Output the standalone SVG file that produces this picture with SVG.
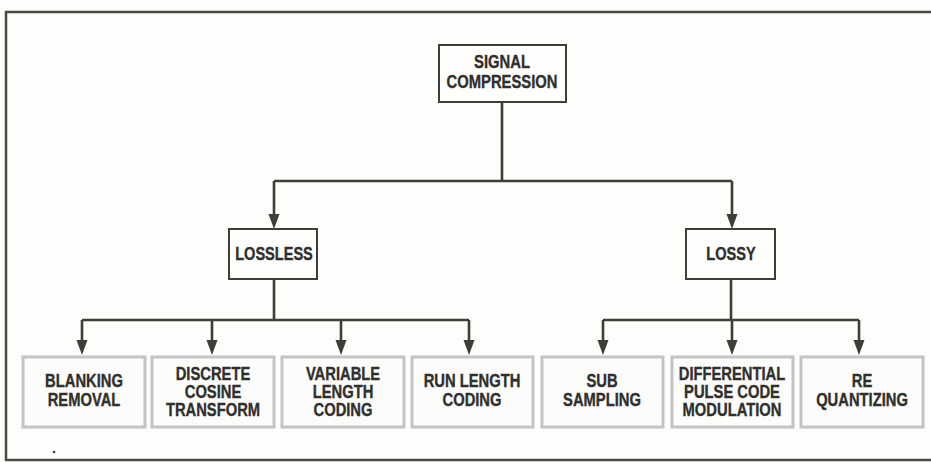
<svg xmlns="http://www.w3.org/2000/svg" width="931" height="462" viewBox="0 0 931 462">
<defs>
<marker id="ah" markerUnits="userSpaceOnUse" markerWidth="15" markerHeight="12" refX="10" refY="6" orient="auto">
<path d="M0,0.5 L15,6 L0,11.5 z" fill="#3d3e3a"/>
</marker>
<style>
.bg{fill:#fdfdfb}
.frame{fill:none;stroke:#4a4b47;stroke-width:2.5}
.top{fill:#fefefc;stroke:#3d3e3a;stroke-width:2}
.leaf{fill:#fcfcfa;stroke:#c4c4c2;stroke-width:3}
.conn{fill:none;stroke:#3d3e3a;stroke-width:2.6}
text{font-family:"Liberation Sans",Arial,sans-serif;font-weight:bold;fill:#2f2f2d;stroke:#2f2f2d;stroke-width:0.35;text-anchor:middle;font-size:18px}
.big{font-size:18.5px}
</style>
</defs>
<rect class="bg" x="0" y="0" width="931" height="462"/>
<path class="frame" d="M931,12 L6,12 L6,460 L931,460"/>
<circle cx="54" cy="452" r="1.3" fill="#3d3e3a"/>

<g id="connectors">
<path class="conn" d="M502,102 V181"/>
<path class="conn" d="M274,181 H732"/>
<path class="conn" d="M274,181 V224" marker-end="url(#ah)"/>
<path class="conn" d="M732,181 V224" marker-end="url(#ah)"/>
<path class="conn" d="M274,279 V320"/>
<path class="conn" d="M82,320 H469"/>
<path class="conn" d="M82,320 V350" marker-end="url(#ah)"/>
<path class="conn" d="M212,320 V350" marker-end="url(#ah)"/>
<path class="conn" d="M341,320 V350" marker-end="url(#ah)"/>
<path class="conn" d="M469,320 V350" marker-end="url(#ah)"/>
<path class="conn" d="M731,279 V320"/>
<path class="conn" d="M603,320 H859"/>
<path class="conn" d="M603,320 V350" marker-end="url(#ah)"/>
<path class="conn" d="M732,320 V350" marker-end="url(#ah)"/>
<path class="conn" d="M859,320 V350" marker-end="url(#ah)"/>
</g>

<g id="signal-compression">
<rect class="top" x="439" y="45" width="127" height="57"/>
<g transform="translate(502,0) scale(0.8,1)">
<text class="big" x="0" y="68">SIGNAL</text>
<text class="big" x="0" y="88">COMPRESSION</text>
</g>
</g>

<g id="lossless">
<rect class="top" x="229" y="229" width="88" height="50"/>
<text transform="translate(274,0) scale(0.81,1)" x="0" y="260">LOSSLESS</text>
</g>

<g id="lossy">
<rect class="top" x="686" y="229" width="89" height="50"/>
<text transform="translate(731,0) scale(0.81,1)" x="0" y="260">LOSSY</text>
</g>

<g id="blanking-removal">
<rect class="leaf" x="23" y="357" width="122" height="70"/>
<g transform="translate(84,0) scale(0.82,1)">
<text x="0" y="387">BLANKING</text>
<text x="0" y="406">REMOVAL</text>
</g>
</g>

<g id="discrete-cosine-transform">
<rect class="leaf" x="152" y="357" width="122" height="70"/>
<g transform="translate(213,0) scale(0.82,1)">
<text x="0" y="380">DISCRETE</text>
<text x="0" y="398">COSINE</text>
<text x="0" y="416">TRANSFORM</text>
</g>
</g>

<g id="variable-length-coding">
<rect class="leaf" x="282" y="357" width="122" height="70"/>
<g transform="translate(343,0) scale(0.82,1)">
<text x="0" y="380">VARIABLE</text>
<text x="0" y="398">LENGTH</text>
<text x="0" y="416">CODING</text>
</g>
</g>

<g id="run-length-coding">
<rect class="leaf" x="412" y="357" width="121" height="70"/>
<g transform="translate(472,0) scale(0.82,1)">
<text x="0" y="387">RUN LENGTH</text>
<text x="0" y="406">CODING</text>
</g>
</g>

<g id="sub-sampling">
<rect class="leaf" x="542" y="357" width="121" height="70"/>
<g transform="translate(602,0) scale(0.82,1)">
<text x="0" y="387">SUB</text>
<text x="0" y="406">SAMPLING</text>
</g>
</g>

<g id="dpcm">
<rect class="leaf" x="672" y="357" width="121" height="70"/>
<g transform="translate(732,0) scale(0.82,1)">
<text x="0" y="380">DIFFERENTIAL</text>
<text x="0" y="398">PULSE CODE</text>
<text x="0" y="416">MODULATION</text>
</g>
</g>

<g id="requantizing">
<rect class="leaf" x="801" y="357" width="122" height="70"/>
<g transform="translate(862,0) scale(0.82,1)">
<text x="0" y="387">RE</text>
<text x="0" y="406">QUANTIZING</text>
</g>
</g>
</svg>
